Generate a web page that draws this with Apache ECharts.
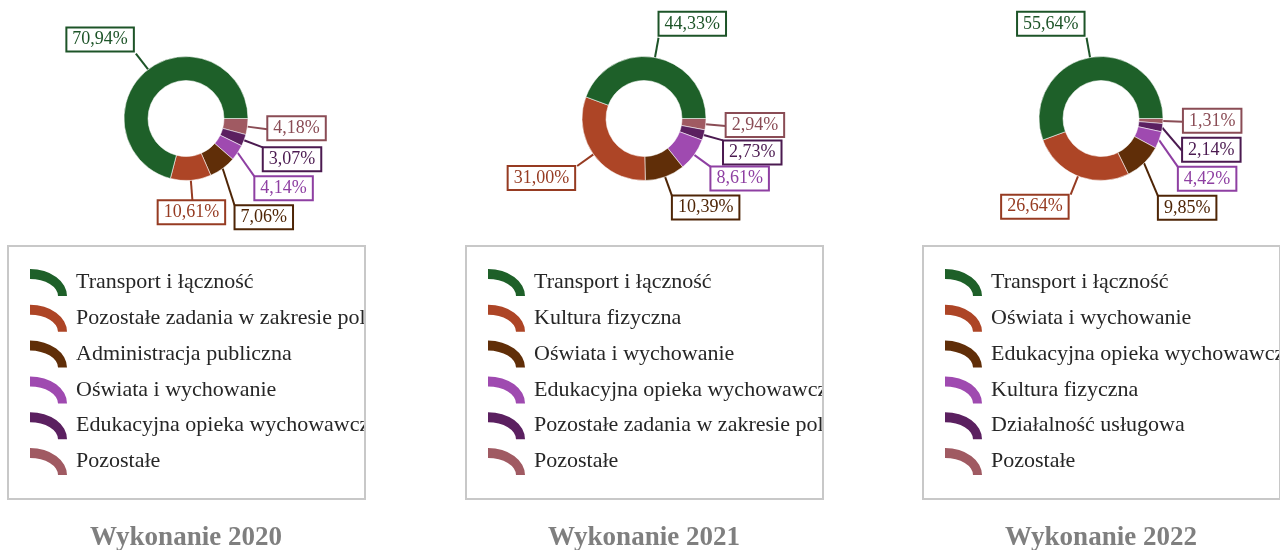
<!DOCTYPE html>
<html>
<head>
<meta charset="utf-8">
<script src="https://cdn.jsdelivr.net/npm/echarts@6/dist/echarts.min.js"></script>
<style>
  html, body { margin: 0; padding: 0; background: #fff; overflow: hidden; }
  #wrap { position: relative; width: 1280px; height: 550px; overflow: hidden; }
  .col { position: absolute; top: 0; width: 458px; height: 550px; }
</style>
</head>
<body>
<div id="wrap">
  <div class="col" id="c0" style="left:-43px"></div>
  <div class="col" id="c1" style="left:415px"></div>
  <div class="col" id="c2" style="left:872px"></div>
</div>
<script>
// Budget structure (share of total, %) per year
const titles = ['Wykonanie 2020', 'Wykonanie 2021', 'Wykonanie 2022'];

const categories2020 = ['Transport i łączność', 'Pozostałe zadania w zakresie polityki społecznej', 'Administracja publiczna', 'Oświata i wychowanie', 'Edukacyjna opieka wychowawcza', 'Pozostałe'];
const values2020 = [70.94, 10.61, 7.06, 4.14, 3.07, 4.18];

const categories2021 = ['Transport i łączność', 'Kultura fizyczna', 'Oświata i wychowanie', 'Edukacyjna opieka wychowawcza', 'Pozostałe zadania w zakresie polityki społecznej', 'Pozostałe'];
const values2021 = [44.33, 31.00, 10.39, 8.61, 2.73, 2.94];

const categories2022 = ['Transport i łączność', 'Oświata i wychowanie', 'Edukacyjna opieka wychowawcza', 'Kultura fizyczna', 'Działalność usługowa', 'Pozostałe'];
const values2022 = [55.64, 26.64, 9.85, 4.42, 2.14, 1.31];

// Colours by position in each ranking
const sliceColors = ['#1e6029', '#ad4526', '#602e08', '#9f4ab0', '#5b2060', '#a05a62'];
const labelColors = ['#1d5428', '#963b22', '#4e2506', '#8e3fa2', '#4b1a50', '#8a4c55'];

// Quarter-ring legend marker (37 x 27 units)
const arcIcon = 'path://M0,0 A37,27 0 0 1 37,27 L28,27 A28,17 0 0 0 0,10 Z';

const FONT = 'Liberation Serif, Times New Roman, serif';

// Legend frame inside each column
const BOX = { x: 50, y: 245, w: 359, h: 255 };

function fmt(v) {
  return v.toFixed(2).replace('.', ',') + '%';
}

function buildChart(el, title, categories, values) {
  const chart = echarts.init(el, null, { renderer: 'canvas' });
  const colW = el.clientWidth;

  // Slices are drawn clockwise from 3 o'clock, last ranking position first
  const items = categories.map((name, i) => ({
    name: name,
    value: values[i],
    itemStyle: { color: sliceColors[i] },
    label: { color: labelColors[i], borderColor: labelColors[i] },
    labelLine: { lineStyle: { color: labelColors[i] } }
  })).reverse();

  // Place each label box with its inner corner at the end of the radial leader,
  // pushing it along the ring when it would collide with a label already placed.
  let placed = [];
  const GAP = 3;
  function overlaps(a, b) {
    return a.x < b.x + b.w && b.x < a.x + a.w && a.y < b.y + b.h && b.y < a.y + a.h;
  }
  function labelLayout(p) {
    if (p.dataIndex === 0) placed = [];
    const pts = p.labelLinePoints;
    if (!pts) return {};
    const a = pts[0], b = pts[1];
    const dx = b[0] - a[0], dy = b[1] - a[1];
    const len = Math.hypot(dx, dy) || 1;
    const ux = dx / len, uy = dy / len;
    const w = p.labelRect.width, h = p.labelRect.height;
    const hx = ux > 0.12 ? 0 : (ux < -0.12 ? 1 : 0.5);
    const vy = uy > 0.2 ? 0 : (uy < -0.2 ? 1 : 0.5);
    const box = { x: b[0] - hx * w, y: b[1] - vy * h, w: w, h: h };
    for (let k = 0; k < 10; k++) {
      let hit = null;
      for (const r of placed) { if (overlaps(box, r)) { hit = r; break; } }
      if (!hit) break;
      if (ux >= 0) box.y = hit.y + hit.h + GAP; else box.y = hit.y - h - GAP;
    }
    placed.push(box);
    const ex = box.x + hx * w, ey = box.y + vy * h;
    return {
      x: box.x + 1, y: box.y + 1, align: 'left', verticalAlign: 'top',
      labelLinePoints: [[a[0], a[1]], [ex, ey], [ex, ey]]
    };
  }

  chart.setOption({
    animation: false,
    title: {
      text: title,
      left: 'center',
      top: 525,
      padding: 0,
      textStyle: { fontFamily: FONT, fontSize: 27, fontWeight: 'bold', color: '#7f7f7f' }
    },
    legend: {
      orient: 'vertical',
      left: BOX.x + 23,
      top: BOX.y + 24,
      padding: 0,
      itemWidth: 37,
      itemHeight: 27,
      itemGap: 8.8,
      icon: arcIcon,
      selectedMode: false,
      itemStyle: { borderWidth: 0 },
      data: categories,
      textStyle: {
        fontFamily: FONT,
        fontSize: 22,
        lineHeight: 24,
        color: '#262626',
        padding: [0, 0, 0, 4]
      }
    },
    // Frame around the legend; long names are cut at its right edge
    graphic: [
      {
        type: 'rect', z: 100, silent: true,
        shape: { x: BOX.x + BOX.w, y: BOX.y - 4, width: colW - BOX.x - BOX.w, height: BOX.h + 8 },
        style: { fill: '#fff' }
      },
      {
        type: 'rect', z: 101, silent: true,
        shape: { x: BOX.x + 1, y: BOX.y + 1, width: BOX.w - 2, height: BOX.h - 2 },
        style: { fill: null, stroke: '#c8c8c8', lineWidth: 2 }
      }
    ],
    series: [{
      type: 'pie',
      center: ['50%', 118.5],
      radius: [38, 62],
      startAngle: 0,
      clockwise: true,
      avoidLabelOverlap: false,
      silent: true,
      itemStyle: { borderColor: 'rgba(255,255,255,0.55)', borderWidth: 1 },
      label: {
        show: true,
        position: 'outside',
        formatter: (p) => fmt(p.value),
        fontFamily: FONT,
        fontSize: 18,
        lineHeight: 20,
        padding: [1, 5],
        backgroundColor: '#fff',
        borderWidth: 2
      },
      labelLine: { show: true, length: 20, length2: 0, lineStyle: { width: 2 } },
      labelLayout: labelLayout,
      data: items
    }]
  });
  return chart;
}

buildChart(document.getElementById('c0'), titles[0], categories2020, values2020);
buildChart(document.getElementById('c1'), titles[1], categories2021, values2021);
buildChart(document.getElementById('c2'), titles[2], categories2022, values2022);
</script>
</body>
</html>
